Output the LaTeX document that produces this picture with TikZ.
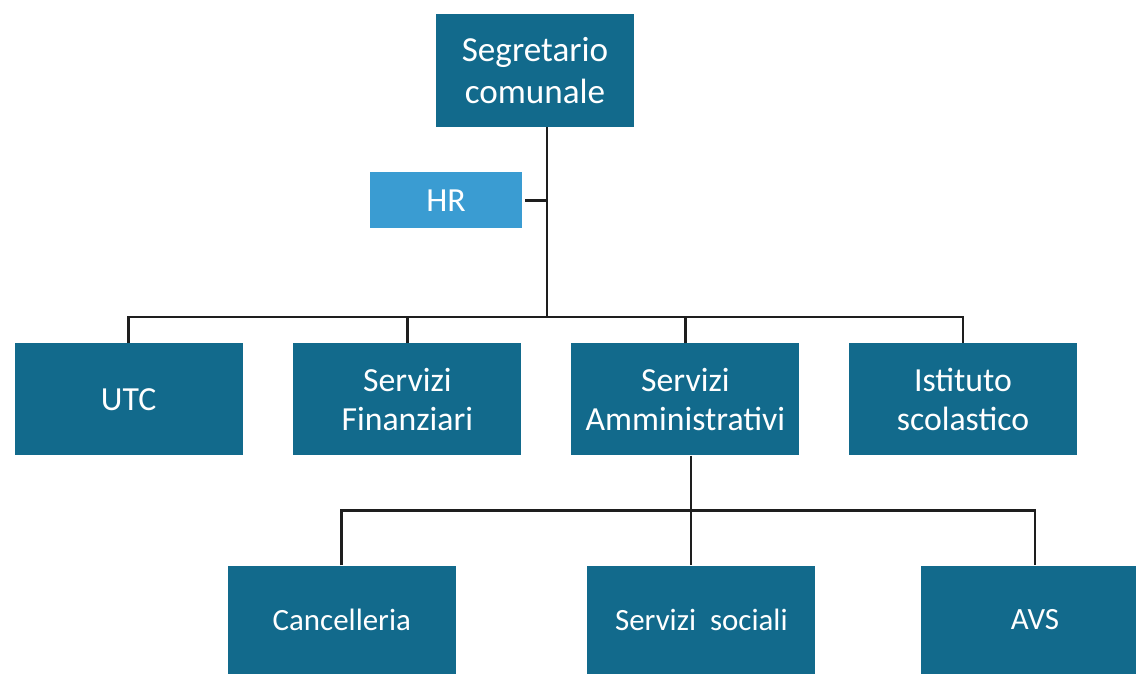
\documentclass[tikz,border=0pt]{standalone}
\usepackage{fontspec}
\setmainfont{Carlito}
\definecolor{teal}{RGB}{18,106,140}
\definecolor{hrblue}{RGB}{58,156,210}
\definecolor{linea}{RGB}{30,30,30}
\begin{document}
\begin{tikzpicture}[
    ufficio/.style={fill=teal, text=white, align=center, inner sep=0pt, minimum width=5.7cm, minimum height=2.8cm, font=\fontsize{24}{28}\selectfont},
    reparto/.style={fill=teal, text=white, align=center, inner sep=0pt, minimum width=5.7cm, minimum height=2.7cm, font=\fontsize{22}{26}\selectfont},
    ramo/.style={draw=linea, line width=2pt}
]
        \useasboundingbox (0,0) rectangle (28.4,-16.825);

        \node[fill=teal, text=white, align=center, inner sep=0pt, minimum width=4.95cm, minimum height=2.825cm, font=\fontsize{25}{30}\selectfont] (seg) at (13.375,-1.7625) {Segretario\\comunale};
        \node[fill=hrblue, text=white, inner sep=0pt, minimum width=3.8cm, minimum height=1.4cm, font=\fontsize{24}{28}\selectfont] (hr) at ([xshift=-2.225cm, yshift=-1.825cm]seg.south) {HR};

        \node[ufficio] (utc) at ([xshift=-10.16cm, yshift=-6.8cm]seg.south) {UTC};
        \node[ufficio] (fin) at ([xshift=-3.19cm, yshift=-6.8cm]seg.south) {Servizi\\Finanziari};
        \node[ufficio] (amm) at ([xshift=3.76cm, yshift=-6.8cm]seg.south) {Servizi\\Amministrativi};
        \node[ufficio] (ist) at ([xshift=10.7cm, yshift=-6.8cm]seg.south) {Istituto\\scolastico};

        \node[reparto] (canc) at ([xshift=-8.59cm, yshift=-4.1cm]amm.south) {Cancelleria};
        \node[reparto] (soc) at ([xshift=0.4cm, yshift=-4.1cm]amm.south) {Servizi\ \ sociali};
        \node[reparto] (avs) at ([xshift=8.74cm, yshift=-4.1cm]amm.south) {AVS};

        \coordinate (bus) at ([xshift=0.3cm]seg.south |- 0,-7.925);
        \coordinate (bus2) at ([xshift=0.14cm, yshift=-1.375cm]amm.south);

        \draw[ramo] ([xshift=0.3cm]seg.south) -- (bus);
        \draw[ramo, shorten <=2pt] (hr.east) -- (hr.east -| bus);
        \draw[ramo] (utc.north) |- (bus) -| (ist.north);
        \draw[ramo] (fin.north) -- (fin.north |- bus);
        \draw[ramo] (amm.north) -- (amm.north |- bus);

        \draw[ramo] ([xshift=0.14cm]amm.south) -- (bus2);
        \draw[ramo] (canc.north) |- (bus2) -| (avs.north);
        \draw[ramo] (bus2) -- (bus2 |- soc.north);

    \end{tikzpicture}
\end{document}
